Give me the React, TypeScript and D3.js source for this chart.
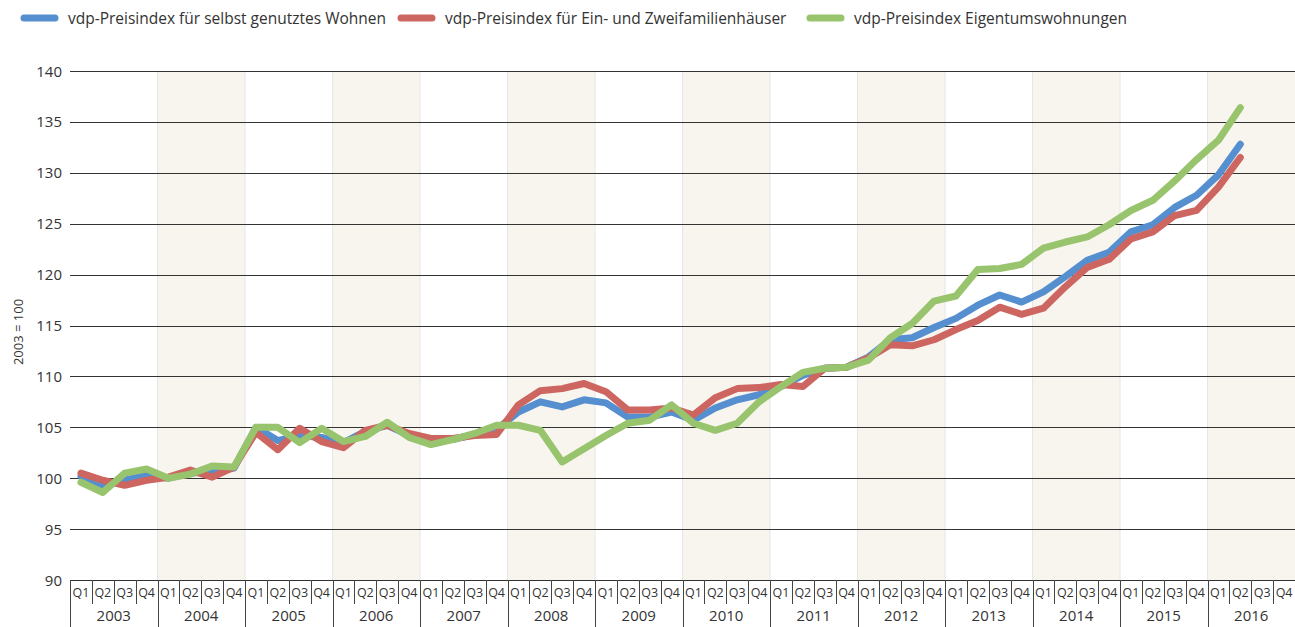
import React from "react";
import * as d3 from "d3";

// Data: quarterly index values, 2003 = 100 (2003 Q1 .. 2016 Q2)
const years = ["2003", "2004", "2005", "2006", "2007", "2008", "2009", "2010", "2011", "2012", "2013", "2014", "2015", "2016"];
const quarters = ["Q1", "Q2", "Q3", "Q4"];
const yTicks = [90, 95, 100, 105, 110, 115, 120, 125, 130, 135, 140];

const seriesNames = [
  "vdp-Preisindex für selbst genutztes Wohnen",
  "vdp-Preisindex für Ein- und Zweifamilienhäuser",
  "vdp-Preisindex Eigentumswohnungen",
];

const wohnen = [
  100.2, 99.3, 99.8, 100.3,
  100.0, 100.5, 100.6, 101.0,
  105.0, 103.7, 104.2, 104.0,
  103.5, 104.6, 105.2, 104.2,
  103.7, 103.8, 104.3, 104.8,
  106.5, 107.5, 107.0, 107.7,
  107.4, 106.0, 106.0, 106.5,
  105.7, 106.9, 107.7, 108.2,
  109.0, 110.1, 110.8, 110.9,
  111.9, 113.6, 113.8, 114.8,
  115.7, 117.0, 118.0, 117.3,
  118.3, 119.8, 121.4, 122.2,
  124.2, 124.9, 126.6, 127.8,
  129.8, 132.8,
];

const haeuser = [
  100.5, 99.8, 99.3, 99.8,
  100.1, 100.8, 100.1, 101.1,
  104.5, 102.8, 104.9, 103.6,
  103.0, 104.7, 105.2, 104.4,
  103.9, 103.9, 104.2, 104.3,
  107.2, 108.6, 108.8, 109.3,
  108.5, 106.7, 106.7, 106.9,
  106.2, 107.9, 108.8, 108.9,
  109.2, 109.0, 110.8, 110.9,
  111.8, 113.1, 113.0, 113.6,
  114.6, 115.5, 116.8, 116.1,
  116.7, 118.8, 120.7, 121.5,
  123.5, 124.2, 125.8, 126.3,
  128.6, 131.5,
];

const wohnungen = [
  99.6, 98.6, 100.5, 100.9,
  100.0, 100.4, 101.2, 101.1,
  105.0, 105.0, 103.5, 104.9,
  103.6, 104.1, 105.5, 104.0,
  103.3, 103.8, 104.4, 105.2,
  105.2, 104.7, 101.6, 102.9,
  104.2, 105.4, 105.7, 107.2,
  105.4, 104.7, 105.4, 107.5,
  109.0, 110.4, 110.8, 110.9,
  111.6, 113.8, 115.2, 117.4,
  117.9, 120.5, 120.6, 121.0,
  122.6, 123.2, 123.7, 124.9,
  126.3, 127.3, 129.2, 131.3,
  133.2, 136.4,
];

const colors = ["#568fd0", "#cd6660", "#98c46d"];

const width = 1295;
const height = 627;
const left = 70;
const right = 1295;
const top = 71;
const bottom = 580;
const font = "'Open Sans', 'Noto Sans', sans-serif";

const App = () => {
  const slots = years.flatMap((y) => quarters.map((q) => `${y}-${q}`));

  const x = d3.scaleBand().domain(slots).range([left, right]);
  const xYear = d3.scaleBand().domain(years).range([left, right]);
  const y = d3.scaleLinear().domain([90, 140]).range([bottom, top]);

  const line = d3
    .line<number>()
    .x((_, i) => (x(slots[i]) as number) + x.bandwidth() / 2)
    .y((d) => y(d));

  const allSeries = [wohnen, haeuser, wohnungen];
  const legendX = [24, 401, 810];

  return (
    <svg width={width} height={height} style={{ position: "absolute", left: 0, top: 0 }}>
      {/* shaded year bands */}
      {years.map((yr, i) => (
        <g key={yr}>
          {i % 2 === 1 && (
            <rect x={xYear(yr)} y={top} width={xYear.bandwidth()} height={bottom - top} fill="#f8f5ee" />
          )}
          {i > 0 && (
            <line x1={xYear(yr)} x2={xYear(yr)} y1={top} y2={bottom} stroke="#e6e6e6" strokeWidth={1} />
          )}
        </g>
      ))}

      {/* gridlines + y labels */}
      {yTicks.map((t) => (
        <g key={t}>
          <line x1={left} x2={right} y1={Math.round(y(t)) + 0.5} y2={Math.round(y(t)) + 0.5} stroke="#333" strokeWidth={1} />
          <text x={62} y={y(t) + 5.5} textAnchor="end" fontFamily={font} fontSize={15} fill="#333">
            {t}
          </text>
        </g>
      ))}
      <text
        transform={`translate(23,332) rotate(-90)`}
        textAnchor="middle"
        fontFamily={font}
        fontSize={13}
        fill="#333"
      >
        2003 = 100
      </text>

      {/* x axis: quarters and years */}
      <line x1={left + 0.5} x2={left + 0.5} y1={bottom} y2={height} stroke="#444" />
      {slots.map((s, i) => (
        <g key={s}>
          <text
            x={(x(s) as number) + x.bandwidth() / 2}
            y={597}
            textAnchor="middle"
            fontFamily={font}
            fontSize={12.5}
            fill="#333"
          >
            {quarters[i % 4]}
          </text>
          {i % 4 !== 0 && (
            <line
              x1={Math.round(x(s) as number) + 0.5}
              x2={Math.round(x(s) as number) + 0.5}
              y1={bottom}
              y2={604}
              stroke="#444"
            />
          )}
        </g>
      ))}
      {years.map((yr, i) => (
        <g key={"y" + yr}>
          <text
            x={(xYear(yr) as number) + xYear.bandwidth() / 2}
            y={621}
            textAnchor="middle"
            fontFamily={font}
            fontSize={15}
            fill="#333"
          >
            {yr}
          </text>
          {i > 0 && (
            <line
              x1={Math.round(xYear(yr) as number) + 0.5}
              x2={Math.round(xYear(yr) as number) + 0.5}
              y1={bottom}
              y2={height}
              stroke="#444"
            />
          )}
        </g>
      ))}

      {/* series lines */}
      {allSeries.map((s, i) => (
        <path
          key={i}
          d={line(s) as string}
          fill="none"
          stroke={colors[i]}
          strokeWidth={7}
          strokeLinejoin="round"
          strokeLinecap="round"
        />
      ))}

      {/* legend */}
      {seriesNames.map((n, i) => (
        <g key={n}>
          <line
            x1={legendX[i]}
            x2={legendX[i] + 31}
            y1={18}
            y2={18}
            stroke={colors[i]}
            strokeWidth={7}
            strokeLinecap="round"
          />
          <text x={legendX[i] + 44} y={24} fontFamily={font} fontSize={15.5} fill="#333">
            {n}
          </text>
        </g>
      ))}
    </svg>
  );
};

export default App;
